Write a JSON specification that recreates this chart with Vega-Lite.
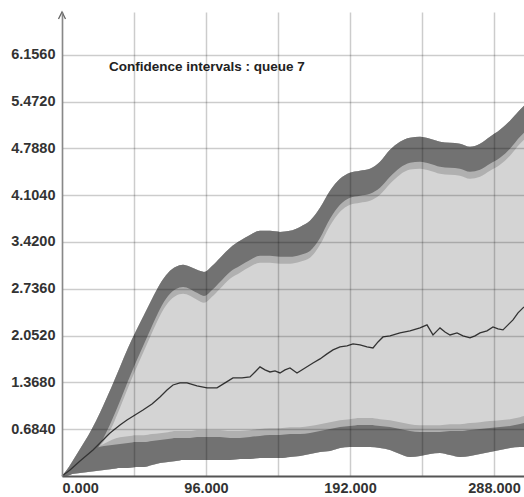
{
  "$schema": "https://vega.github.io/schema/vega-lite/v6.json",
  "autosize": {"type": "none"},
  "padding": {"left": 62, "top": 12, "right": 0, "bottom": 21},
  "width": 462,
  "height": 464,
  "background": "white",
  "datasets": {
    "bands": [
      {"x": 0, "upper_top": 0, "upper_bottom": 0, "upper_halo": 0, "lower_top": 0, "lower_halo": 0, "lower_bottom": 0},
      {"x": 2.67, "upper_top": 0.073, "upper_bottom": 0, "upper_halo": 0, "lower_top": 0.058, "lower_halo": 0.058, "lower_bottom": 0.015},
      {"x": 6.67, "upper_top": 0.205, "upper_bottom": 0.03, "upper_halo": 0.03, "lower_top": 0.146, "lower_halo": 0.146, "lower_bottom": 0.029},
      {"x": 12, "upper_top": 0.395, "upper_bottom": 0.103, "upper_halo": 0.103, "lower_top": 0.263, "lower_halo": 0.263, "lower_bottom": 0.044},
      {"x": 17.33, "upper_top": 0.585, "upper_bottom": 0.205, "upper_halo": 0.205, "lower_top": 0.351, "lower_halo": 0.351, "lower_bottom": 0.058},
      {"x": 22.67, "upper_top": 0.804, "upper_bottom": 0.365, "upper_halo": 0.365, "lower_top": 0.409, "lower_halo": 0.409, "lower_bottom": 0.073},
      {"x": 28, "upper_top": 1.053, "upper_bottom": 0.571, "upper_halo": 0.511, "lower_top": 0.439, "lower_halo": 0.47, "lower_bottom": 0.088},
      {"x": 33.33, "upper_top": 1.316, "upper_bottom": 0.819, "upper_halo": 0.719, "lower_top": 0.453, "lower_halo": 0.53, "lower_bottom": 0.102},
      {"x": 38.67, "upper_top": 1.594, "upper_bottom": 1.097, "upper_halo": 0.997, "lower_top": 0.468, "lower_halo": 0.568, "lower_bottom": 0.117},
      {"x": 44, "upper_top": 1.871, "upper_bottom": 1.389, "upper_halo": 1.289, "lower_top": 0.482, "lower_halo": 0.582, "lower_bottom": 0.117},
      {"x": 49.33, "upper_top": 2.12, "upper_bottom": 1.667, "upper_halo": 1.567, "lower_top": 0.497, "lower_halo": 0.597, "lower_bottom": 0.132},
      {"x": 54.67, "upper_top": 2.354, "upper_bottom": 1.93, "upper_halo": 1.83, "lower_top": 0.497, "lower_halo": 0.597, "lower_bottom": 0.132},
      {"x": 60, "upper_top": 2.588, "upper_bottom": 2.193, "upper_halo": 2.093, "lower_top": 0.512, "lower_halo": 0.612, "lower_bottom": 0.161},
      {"x": 65.33, "upper_top": 2.807, "upper_bottom": 2.442, "upper_halo": 2.342, "lower_top": 0.526, "lower_halo": 0.626, "lower_bottom": 0.19},
      {"x": 70.67, "upper_top": 2.968, "upper_bottom": 2.632, "upper_halo": 2.532, "lower_top": 0.541, "lower_halo": 0.641, "lower_bottom": 0.205},
      {"x": 76, "upper_top": 3.056, "upper_bottom": 2.734, "upper_halo": 2.634, "lower_top": 0.556, "lower_halo": 0.656, "lower_bottom": 0.219},
      {"x": 80.67, "upper_top": 3.085, "upper_bottom": 2.763, "upper_halo": 2.663, "lower_top": 0.556, "lower_halo": 0.656, "lower_bottom": 0.234},
      {"x": 85.33, "upper_top": 3.056, "upper_bottom": 2.734, "upper_halo": 2.634, "lower_top": 0.556, "lower_halo": 0.656, "lower_bottom": 0.234},
      {"x": 90, "upper_top": 3.012, "upper_bottom": 2.676, "upper_halo": 2.576, "lower_top": 0.57, "lower_halo": 0.67, "lower_bottom": 0.234},
      {"x": 94.67, "upper_top": 2.982, "upper_bottom": 2.631, "upper_halo": 2.531, "lower_top": 0.57, "lower_halo": 0.67, "lower_bottom": 0.234},
      {"x": 100, "upper_top": 3.07, "upper_bottom": 2.719, "upper_halo": 2.619, "lower_top": 0.57, "lower_halo": 0.67, "lower_bottom": 0.234},
      {"x": 105.33, "upper_top": 3.187, "upper_bottom": 2.836, "upper_halo": 2.736, "lower_top": 0.57, "lower_halo": 0.67, "lower_bottom": 0.234},
      {"x": 112, "upper_top": 3.333, "upper_bottom": 2.982, "upper_halo": 2.882, "lower_top": 0.556, "lower_halo": 0.656, "lower_bottom": 0.234},
      {"x": 118.67, "upper_top": 3.436, "upper_bottom": 3.071, "upper_halo": 2.971, "lower_top": 0.556, "lower_halo": 0.656, "lower_bottom": 0.249},
      {"x": 125.33, "upper_top": 3.523, "upper_bottom": 3.158, "upper_halo": 3.058, "lower_top": 0.57, "lower_halo": 0.67, "lower_bottom": 0.249},
      {"x": 132, "upper_top": 3.582, "upper_bottom": 3.217, "upper_halo": 3.117, "lower_top": 0.585, "lower_halo": 0.685, "lower_bottom": 0.263},
      {"x": 138.67, "upper_top": 3.582, "upper_bottom": 3.217, "upper_halo": 3.117, "lower_top": 0.599, "lower_halo": 0.699, "lower_bottom": 0.263},
      {"x": 145.33, "upper_top": 3.567, "upper_bottom": 3.202, "upper_halo": 3.102, "lower_top": 0.599, "lower_halo": 0.699, "lower_bottom": 0.263},
      {"x": 152, "upper_top": 3.582, "upper_bottom": 3.202, "upper_halo": 3.102, "lower_top": 0.614, "lower_halo": 0.714, "lower_bottom": 0.278},
      {"x": 158.67, "upper_top": 3.64, "upper_bottom": 3.231, "upper_halo": 3.131, "lower_top": 0.614, "lower_halo": 0.714, "lower_bottom": 0.292},
      {"x": 165.33, "upper_top": 3.728, "upper_bottom": 3.289, "upper_halo": 3.189, "lower_top": 0.629, "lower_halo": 0.729, "lower_bottom": 0.322},
      {"x": 172, "upper_top": 3.918, "upper_bottom": 3.479, "upper_halo": 3.379, "lower_top": 0.658, "lower_halo": 0.758, "lower_bottom": 0.351},
      {"x": 178.67, "upper_top": 4.167, "upper_bottom": 3.758, "upper_halo": 3.658, "lower_top": 0.687, "lower_halo": 0.787, "lower_bottom": 0.365},
      {"x": 185.33, "upper_top": 4.342, "upper_bottom": 3.962, "upper_halo": 3.862, "lower_top": 0.716, "lower_halo": 0.816, "lower_bottom": 0.409},
      {"x": 192, "upper_top": 4.43, "upper_bottom": 4.065, "upper_halo": 3.965, "lower_top": 0.731, "lower_halo": 0.831, "lower_bottom": 0.424},
      {"x": 198.67, "upper_top": 4.459, "upper_bottom": 4.094, "upper_halo": 3.994, "lower_top": 0.746, "lower_halo": 0.846, "lower_bottom": 0.424},
      {"x": 205.33, "upper_top": 4.488, "upper_bottom": 4.123, "upper_halo": 4.023, "lower_top": 0.746, "lower_halo": 0.846, "lower_bottom": 0.424},
      {"x": 212, "upper_top": 4.591, "upper_bottom": 4.211, "upper_halo": 4.111, "lower_top": 0.731, "lower_halo": 0.831, "lower_bottom": 0.409},
      {"x": 218.67, "upper_top": 4.766, "upper_bottom": 4.371, "upper_halo": 4.271, "lower_top": 0.716, "lower_halo": 0.816, "lower_bottom": 0.38},
      {"x": 225.33, "upper_top": 4.883, "upper_bottom": 4.503, "upper_halo": 4.403, "lower_top": 0.687, "lower_halo": 0.787, "lower_bottom": 0.322},
      {"x": 232, "upper_top": 4.942, "upper_bottom": 4.577, "upper_halo": 4.477, "lower_top": 0.658, "lower_halo": 0.758, "lower_bottom": 0.278},
      {"x": 238.67, "upper_top": 4.956, "upper_bottom": 4.591, "upper_halo": 4.491, "lower_top": 0.643, "lower_halo": 0.743, "lower_bottom": 0.292},
      {"x": 245.33, "upper_top": 4.927, "upper_bottom": 4.562, "upper_halo": 4.462, "lower_top": 0.643, "lower_halo": 0.743, "lower_bottom": 0.322},
      {"x": 252, "upper_top": 4.883, "upper_bottom": 4.518, "upper_halo": 4.418, "lower_top": 0.643, "lower_halo": 0.743, "lower_bottom": 0.336},
      {"x": 258.67, "upper_top": 4.868, "upper_bottom": 4.503, "upper_halo": 4.403, "lower_top": 0.658, "lower_halo": 0.758, "lower_bottom": 0.307},
      {"x": 265.33, "upper_top": 4.854, "upper_bottom": 4.489, "upper_halo": 4.389, "lower_top": 0.658, "lower_halo": 0.758, "lower_bottom": 0.278},
      {"x": 272, "upper_top": 4.81, "upper_bottom": 4.445, "upper_halo": 4.345, "lower_top": 0.673, "lower_halo": 0.773, "lower_bottom": 0.292},
      {"x": 278.67, "upper_top": 4.854, "upper_bottom": 4.474, "upper_halo": 4.374, "lower_top": 0.687, "lower_halo": 0.787, "lower_bottom": 0.322},
      {"x": 285.33, "upper_top": 4.956, "upper_bottom": 4.561, "upper_halo": 4.461, "lower_top": 0.702, "lower_halo": 0.802, "lower_bottom": 0.351},
      {"x": 292, "upper_top": 5.058, "upper_bottom": 4.649, "upper_halo": 4.549, "lower_top": 0.716, "lower_halo": 0.816, "lower_bottom": 0.38},
      {"x": 298.67, "upper_top": 5.19, "upper_bottom": 4.781, "upper_halo": 4.681, "lower_top": 0.731, "lower_halo": 0.831, "lower_bottom": 0.409},
      {"x": 305.33, "upper_top": 5.351, "upper_bottom": 4.956, "upper_halo": 4.856, "lower_top": 0.76, "lower_halo": 0.86, "lower_bottom": 0.424},
      {"x": 308, "upper_top": 5.409, "upper_bottom": 5.014, "upper_halo": 4.914, "lower_top": 0.775, "lower_halo": 0.875, "lower_bottom": 0.424}
    ],
    "mean": [
      {"x": 0, "y": 0}, {"x": 5.33, "y": 0.088}, {"x": 12, "y": 0.219}, {"x": 20.67, "y": 0.38},
      {"x": 25.33, "y": 0.482}, {"x": 32, "y": 0.629}, {"x": 38.67, "y": 0.746}, {"x": 43.33, "y": 0.819},
      {"x": 48.67, "y": 0.892}, {"x": 54, "y": 0.965}, {"x": 60, "y": 1.053}, {"x": 65.33, "y": 1.155},
      {"x": 70, "y": 1.257}, {"x": 74, "y": 1.33}, {"x": 78.67, "y": 1.36}, {"x": 83.33, "y": 1.36},
      {"x": 90, "y": 1.316}, {"x": 96.67, "y": 1.287}, {"x": 103.33, "y": 1.287}, {"x": 108.67, "y": 1.36},
      {"x": 114, "y": 1.433}, {"x": 120, "y": 1.433}, {"x": 125.33, "y": 1.447}, {"x": 128.67, "y": 1.52},
      {"x": 132, "y": 1.594}, {"x": 135.33, "y": 1.55}, {"x": 138.67, "y": 1.52}, {"x": 142, "y": 1.535},
      {"x": 145.33, "y": 1.506}, {"x": 148.67, "y": 1.55}, {"x": 152, "y": 1.579}, {"x": 156.67, "y": 1.506},
      {"x": 162, "y": 1.579}, {"x": 167.33, "y": 1.652}, {"x": 172, "y": 1.711}, {"x": 176.67, "y": 1.784},
      {"x": 180.67, "y": 1.842}, {"x": 185.33, "y": 1.886}, {"x": 190, "y": 1.901}, {"x": 194, "y": 1.93},
      {"x": 198.67, "y": 1.915}, {"x": 203.33, "y": 1.886}, {"x": 207.33, "y": 1.871}, {"x": 210.67, "y": 1.959},
      {"x": 214, "y": 2.032}, {"x": 218.67, "y": 2.047}, {"x": 225.33, "y": 2.091}, {"x": 232, "y": 2.12},
      {"x": 238.67, "y": 2.164}, {"x": 243.33, "y": 2.208}, {"x": 247.33, "y": 2.061}, {"x": 250, "y": 2.12},
      {"x": 252, "y": 2.164}, {"x": 255.33, "y": 2.105}, {"x": 258.67, "y": 2.061}, {"x": 263.33, "y": 2.091},
      {"x": 267.33, "y": 2.047}, {"x": 272, "y": 2.018}, {"x": 275.33, "y": 2.047}, {"x": 278.67, "y": 2.091},
      {"x": 283.33, "y": 2.12}, {"x": 287.33, "y": 2.178}, {"x": 290.67, "y": 2.149}, {"x": 294, "y": 2.135},
      {"x": 297.33, "y": 2.208}, {"x": 300.67, "y": 2.281}, {"x": 304, "y": 2.383}, {"x": 308, "y": 2.471}
    ],
    "note": [{"label": "Confidence intervals : queue 7"}],
    "axis_end": [{"x": 0, "y": 6.78}]
  },
  "layer": [
    {
      "data": {"name": "bands"},
      "mark": {"type": "area", "color": "#d4d4d4", "interpolate": "monotone"},
      "encoding": {
        "x": {"field": "x", "type": "quantitative", "scale": {"domain": [0, 308], "nice": false, "zero": false},
          "axis": {"title": null, "values": [0, 48, 96, 144, 192, 240, 288], "labelExpr": "datum.value % 96 === 0 ? format(datum.value, '.3f') : ''", "labelFlush": true, "zindex": 1}},
        "y": {"field": "lower_bottom", "type": "quantitative", "scale": {"domain": [0, 6.78], "nice": false, "zero": false},
          "axis": {"title": null, "values": [0.684, 1.368, 2.052, 2.736, 3.42, 4.104, 4.788, 5.472, 6.156], "format": ".4f", "zindex": 1}},
        "y2": {"field": "upper_top"}
      }
    },
    {
      "data": {"name": "bands"},
      "mark": {"type": "area", "color": "#b0b0b0", "interpolate": "monotone"},
      "encoding": {
        "x": {"field": "x", "type": "quantitative", "scale": {"domain": [0, 308], "nice": false, "zero": false},
          "axis": {"title": null, "values": [0, 48, 96, 144, 192, 240, 288], "labelExpr": "datum.value % 96 === 0 ? format(datum.value, '.3f') : ''", "labelFlush": true, "zindex": 1}},
        "y": {"field": "upper_top", "type": "quantitative", "scale": {"domain": [0, 6.78], "nice": false, "zero": false},
          "axis": {"title": null, "values": [0.684, 1.368, 2.052, 2.736, 3.42, 4.104, 4.788, 5.472, 6.156], "format": ".4f", "zindex": 1}},
        "y2": {"field": "upper_halo"}
      }
    },
    {
      "data": {"name": "bands"},
      "mark": {"type": "area", "color": "#b0b0b0", "interpolate": "monotone"},
      "encoding": {
        "x": {"field": "x", "type": "quantitative", "scale": {"domain": [0, 308], "nice": false, "zero": false},
          "axis": {"title": null, "values": [0, 48, 96, 144, 192, 240, 288], "labelExpr": "datum.value % 96 === 0 ? format(datum.value, '.3f') : ''", "labelFlush": true, "zindex": 1}},
        "y": {"field": "lower_halo", "type": "quantitative", "scale": {"domain": [0, 6.78], "nice": false, "zero": false},
          "axis": {"title": null, "values": [0.684, 1.368, 2.052, 2.736, 3.42, 4.104, 4.788, 5.472, 6.156], "format": ".4f", "zindex": 1}},
        "y2": {"field": "lower_bottom"}
      }
    },
    {
      "data": {"name": "bands"},
      "mark": {"type": "area", "color": "#727272", "interpolate": "monotone"},
      "encoding": {
        "x": {"field": "x", "type": "quantitative", "scale": {"domain": [0, 308], "nice": false, "zero": false},
          "axis": {"title": null, "values": [0, 48, 96, 144, 192, 240, 288], "labelExpr": "datum.value % 96 === 0 ? format(datum.value, '.3f') : ''", "labelFlush": true, "zindex": 1}},
        "y": {"field": "upper_top", "type": "quantitative", "scale": {"domain": [0, 6.78], "nice": false, "zero": false},
          "axis": {"title": null, "values": [0.684, 1.368, 2.052, 2.736, 3.42, 4.104, 4.788, 5.472, 6.156], "format": ".4f", "zindex": 1}},
        "y2": {"field": "upper_bottom"}
      }
    },
    {
      "data": {"name": "bands"},
      "mark": {"type": "area", "color": "#727272", "interpolate": "monotone"},
      "encoding": {
        "x": {"field": "x", "type": "quantitative", "scale": {"domain": [0, 308], "nice": false, "zero": false},
          "axis": {"title": null, "values": [0, 48, 96, 144, 192, 240, 288], "labelExpr": "datum.value % 96 === 0 ? format(datum.value, '.3f') : ''", "labelFlush": true, "zindex": 1}},
        "y": {"field": "lower_top", "type": "quantitative", "scale": {"domain": [0, 6.78], "nice": false, "zero": false},
          "axis": {"title": null, "values": [0.684, 1.368, 2.052, 2.736, 3.42, 4.104, 4.788, 5.472, 6.156], "format": ".4f", "zindex": 1}},
        "y2": {"field": "lower_bottom"}
      }
    },
    {
      "data": {"name": "mean"},
      "mark": {"type": "line", "color": "#333333", "strokeWidth": 1.3},
      "encoding": {
        "x": {"field": "x", "type": "quantitative", "scale": {"domain": [0, 308], "nice": false, "zero": false},
          "axis": {"title": null, "values": [0, 48, 96, 144, 192, 240, 288], "labelExpr": "datum.value % 96 === 0 ? format(datum.value, '.3f') : ''", "labelFlush": true, "zindex": 1}},
        "y": {"field": "y", "type": "quantitative", "scale": {"domain": [0, 6.78], "nice": false, "zero": false},
          "axis": {"title": null, "values": [0.684, 1.368, 2.052, 2.736, 3.42, 4.104, 4.788, 5.472, 6.156], "format": ".4f", "zindex": 1}}
      }
    },
    {
      "data": {"name": "axis_end"},
      "mark": {"type": "point", "shape": "M-1,2L0,0L1,2", "size": 49, "filled": false, "stroke": "#666666", "strokeWidth": 1.3, "opacity": 1},
      "encoding": {
        "x": {"field": "x", "type": "quantitative", "scale": {"domain": [0, 308], "nice": false, "zero": false},
          "axis": {"title": null, "values": [0, 48, 96, 144, 192, 240, 288], "labelExpr": "datum.value % 96 === 0 ? format(datum.value, '.3f') : ''", "labelFlush": true, "zindex": 1}},
        "y": {"field": "y", "type": "quantitative", "scale": {"domain": [0, 6.78], "nice": false, "zero": false},
          "axis": {"title": null, "values": [0.684, 1.368, 2.052, 2.736, 3.42, 4.104, 4.788, 5.472, 6.156], "format": ".4f", "zindex": 1}}
      }
    },
    {
      "data": {"name": "note"},
      "mark": {"type": "text", "align": "left", "baseline": "middle", "font": "Liberation Sans", "fontWeight": "bold", "fontSize": 13.5, "color": "#222222"},
      "encoding": {
        "x": {"datum": 31.3},
        "y": {"datum": 5.98},
        "text": {"field": "label"}
      }
    }
  ],
  "config": {
    "view": {"stroke": null},
    "axis": {
      "ticks": false,
      "grid": true,
      "gridColor": "#000000",
      "gridOpacity": 0.2,
      "gridWidth": 1.5,
      "labelFont": "Liberation Sans",
      "labelFontWeight": "bold",
      "labelColor": "#333333",
      "labelOverlap": false,
      "labelBound": false
    },
    "axisX": {"labelPadding": 5, "labelFontSize": 14.5, "domainColor": "#555555", "domainWidth": 2},
    "axisY": {"labelPadding": 7, "labelFontSize": 14.5, "domainColor": "#888888", "domainWidth": 1.5}
  }
}
